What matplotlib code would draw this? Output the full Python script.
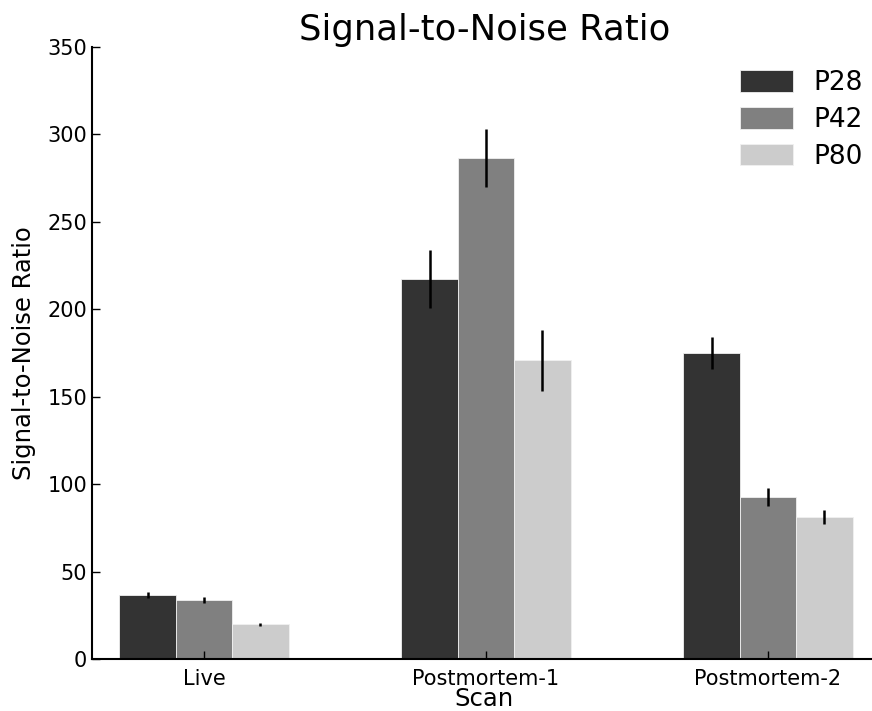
import numpy as np
import matplotlib
matplotlib.use('Agg')
import matplotlib.pyplot as plt

scans = ['Live', 'Postmortem-1', 'Postmortem-2']
groups = ['P28', 'P42', 'P80']
colors = ['#333333', '#808080', '#cccccc']
snr = [[36.6, 217.5, 175.0],
       [33.8, 286.5, 92.6],
       [20.0, 170.8, 81.2]]
err = [[1.5, 16.5, 9.0],
       [1.5, 16.5, 5.0],
       [0.8, 17.5, 3.8]]

fig = plt.figure(figsize=(8.72, 7.11), dpi=100)
ax = fig.add_axes([0.1055, 0.073, 0.9, 0.861])
x = np.arange(len(scans))
w = 0.2
for i, g in enumerate(groups):
    ax.bar(x + (i - 1) * w, snr[i], w, color=colors[i], edgecolor='#f0f0f0',
           linewidth=0.6, label=g)
    ax.errorbar(x + (i - 1) * w, snr[i], yerr=err[i], fmt='none',
                ecolor='black', elinewidth=1.8, capsize=0)

ax.set_xlim(-0.397, 2.386)
ax.set_ylim(0, 350)
ax.set_xticks(x)
ax.set_xticklabels(scans)
ax.set_yticks(range(0, 351, 50))
ax.tick_params(direction='in', labelsize=15, length=6, width=1)
ax.tick_params(axis='x', pad=7)
ax.spines['top'].set_visible(False)
ax.spines['right'].set_visible(False)
ax.spines['left'].set_linewidth(1.5)
ax.spines['bottom'].set_linewidth(1.5)
ax.set_xlabel('Scan', fontsize=17.5, labelpad=-1)
ax.set_ylabel('Signal-to-Noise Ratio', fontsize=17.5, labelpad=8)
ax.set_title('Signal-to-Noise Ratio', fontsize=25.5, pad=2)
ax.legend(frameon=False, fontsize=19, loc='upper right', handlelength=2.0,
          handleheight=0.9, handletextpad=0.8, labelspacing=0.4,
          borderaxespad=0.3, bbox_to_anchor=(1.006, 0.992))

fig.savefig('out.png', dpi=100)
